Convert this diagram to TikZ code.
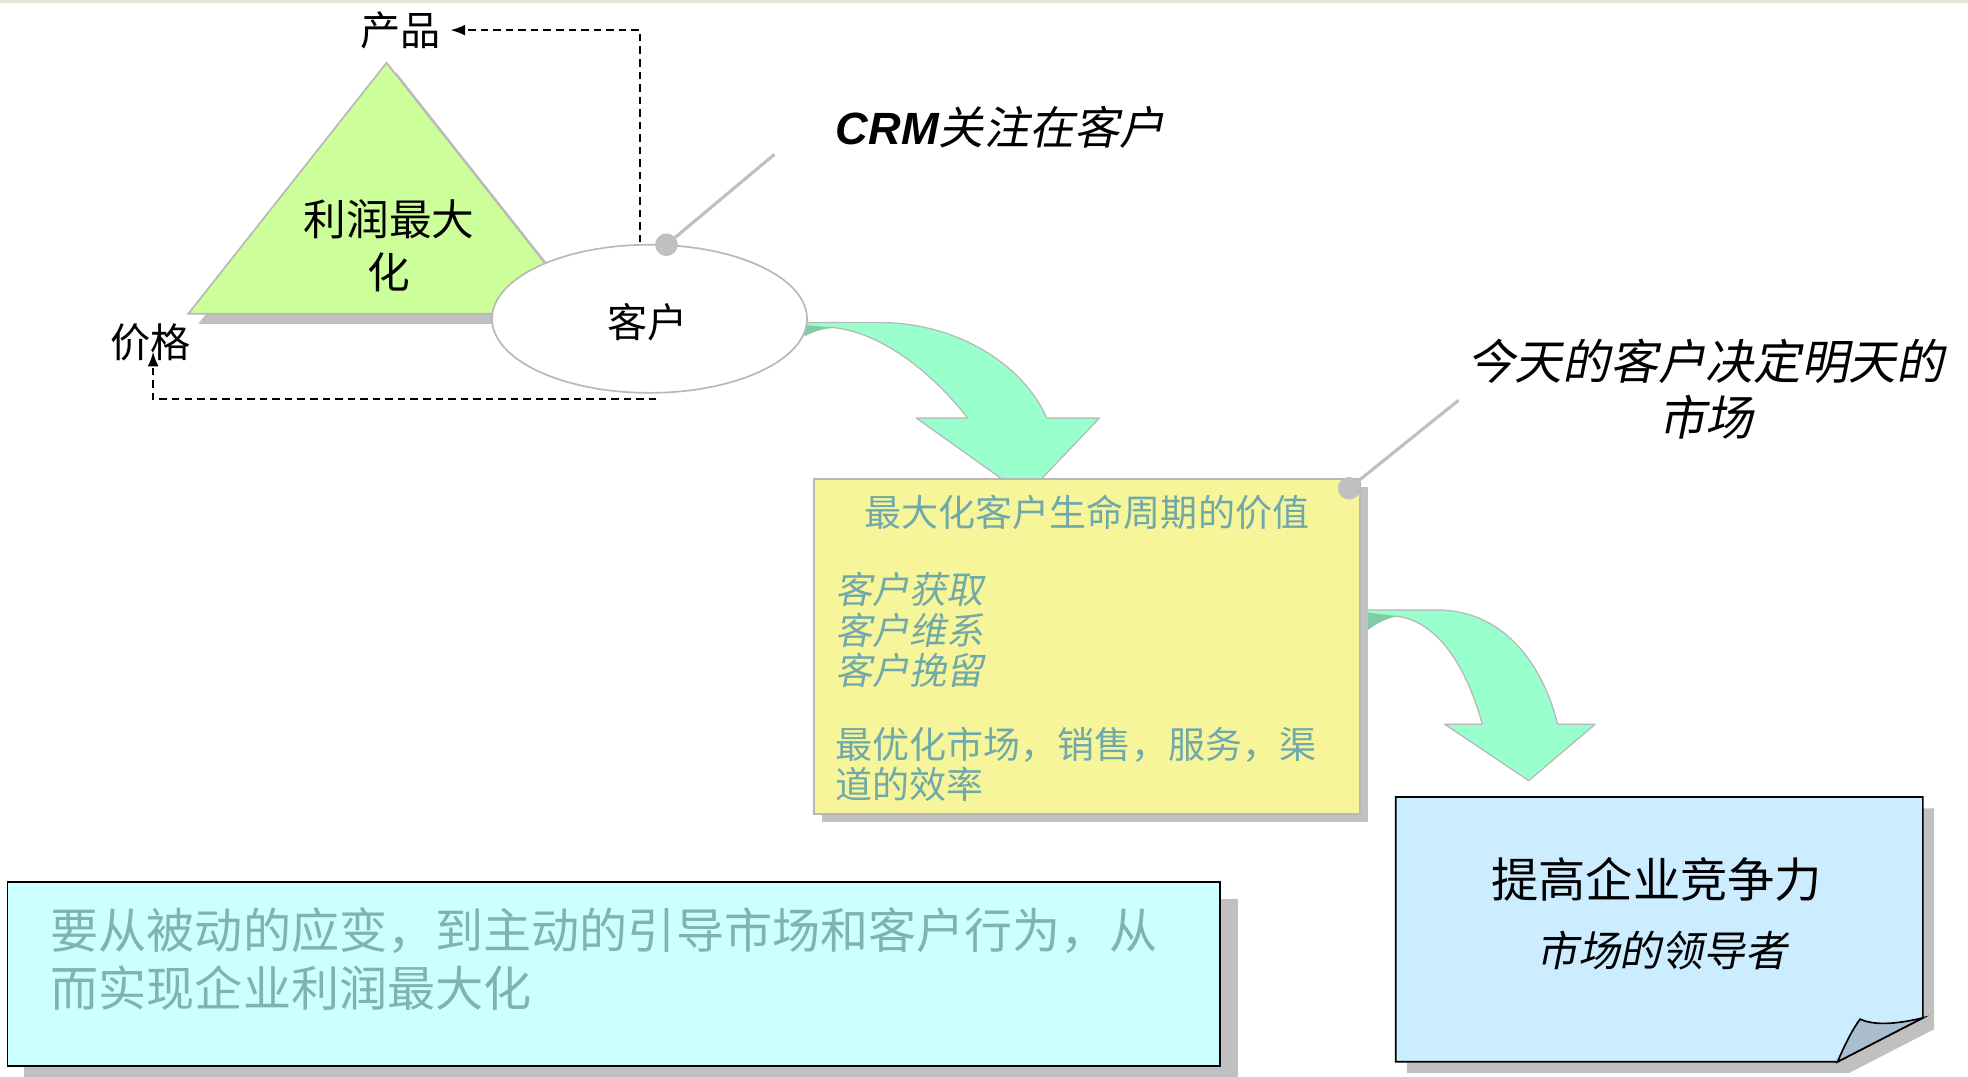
\documentclass[tikz,border=0pt]{standalone}
\usepackage{fontspec}
\setmainfont{Liberation Sans}
\newfontfamily\cjk{Noto Sans CJK SC}
\newfontfamily\cjkit{Noto Sans CJK SC}[FakeSlant=0.2]
\usetikzlibrary{arrows.meta,calc,shapes.geometric}
\newcommand\myfs[2]{\fontsize{#1}{#2}\selectfont}
\definecolor{trifill}{HTML}{CCFF99}
\definecolor{shadowgray}{HTML}{C0C0C0}
\definecolor{edgegray}{HTML}{B8B8B8}
\definecolor{arrowgreen}{HTML}{99FFCC}
\definecolor{arrowdark}{HTML}{7FCCA5}
\definecolor{noteyellow}{HTML}{F7F59A}
\definecolor{tealtext}{HTML}{6FA9A9}
\definecolor{bluebox}{HTML}{CCECFF}
\definecolor{foldblue}{HTML}{A9BFD0}
\definecolor{cyanbox}{HTML}{CCFFFF}
\definecolor{bottomtext}{HTML}{7FB2B2}
\definecolor{topline}{HTML}{E4E4D8}
\tikzset{
  dasharrow/.style={draw=black, line width=1pt, dash pattern=on 3.6pt off 2.4pt, -{Latex[length=7pt,width=5.2pt]}},
  calloutline/.style={draw=shadowgray, line width=1.5pt},
  calloutdot/.style={circle, fill=shadowgray, inner sep=0pt, minimum size=10.8pt},
  bigarrow/.style={fill=arrowgreen, draw=edgegray, line width=0.6pt, line join=round},
  darkpart/.style={fill=arrowdark, draw=none},
  plainlabel/.style={inner sep=0pt, text=black},
}
\begin{document}
\begin{tikzpicture}[x=0.6pt,y=-0.6pt]
\useasboundingbox (0,0) rectangle (1568,858);
\fill[white] (0,0) rectangle (1568,858);
\fill[topline] (0,0) rectangle (1568,2);

% triangle
\fill[shadowgray] (158,258) -- (316,58) -- (474,258) -- cycle;
\filldraw[fill=trifill, draw=edgegray, line width=0.8pt] (150,250) -- (308,50) -- (466,250) -- cycle;
\node[plainlabel, font=\cjk\myfs{20.4}{25.2}, align=center] (profit) at (310,196) {利润最大\\化};

% curved arrow 1
\filldraw[bigarrow] (630,257) -- (701,257) .. controls (762,257) and (815,290) .. (834,333)
  -- (876,333) -- (817,395) -- (730,333) -- (771,333)
  .. controls (742,296) and (702,265) .. (664,261) -- (630,262) -- cycle;
\fill[darkpart] (664,261) .. controls (654,262) and (647,265) .. (641,268) -- (641,259) -- cycle;

% customer ellipse
\node[ellipse, draw=edgegray, fill=white, line width=0.8pt, minimum width=150.6pt, minimum height=70.8pt, inner sep=0pt] (cust) at (517.5,254) {};
\node[plainlabel, font=\cjk\myfs{19.2}{22}] (custlabel) at (516,257) {客户};

% product / price labels and dashed arrows
\node[plainlabel, font=\cjk\myfs{19.2}{22}] (prod) at (319,24) {产品};
\node[plainlabel, font=\cjk\myfs{19.2}{22}] (price) at (120,273) {价格};
\coordinate (c1) at (510,193);
\coordinate (c2) at (523,318);
\draw[dasharrow] (c1) |- ([xshift=4.5pt]prod.east);
\draw[dasharrow] (c2) -| ([xshift=1.2pt,yshift=4.8pt]price.south);

% CRM callout
\node[calloutdot] (dot1) at (531,195) {};
\coordinate (tip1) at (617,123);
\draw[calloutline] (dot1.center) -- (tip1);
\node[plainlabel, font=\myfs{21.6}{25}] (crm) at (797,101) {{\bfseries\itshape CRM}{\cjkit 关注在客户}};

% curved arrow 2
\filldraw[bigarrow] (1080,486) -- (1145,486) .. controls (1195,486) and (1228,525) .. (1241,577)
  -- (1271,577) -- (1218,622) -- (1151,577) -- (1181,577)
  .. controls (1168,530) and (1145,495) .. (1113,491) -- (1080,492) -- cycle;
\fill[darkpart] (1113,491) .. controls (1104,493) and (1096,497) .. (1090,502) -- (1090,488) -- cycle;

% yellow note
\fill[shadowgray] (655,388) rectangle (1090,655);
\node[draw=edgegray, fill=noteyellow, line width=0.8pt, anchor=north west, minimum width=261pt, minimum height=160.2pt, inner sep=0pt] (note) at (648,381) {};
\node[plainlabel, text=tealtext, font=\cjk\myfs{17.7}{19.5}] (t1) at (866,408) {最大化客户生命周期的价值};
\node[plainlabel, text=tealtext, font=\cjkit\myfs{17.7}{19.5}, align=left, anchor=west] (t2) at (665,502) {客户获取\\客户维系\\客户挽留};
\node[plainlabel, text=tealtext, font=\cjk\myfs{17.7}{19.5}, align=left, anchor=west] (t3) at (665,609) {最优化市场，销售，服务，渠\\道的效率};
\node[calloutdot] (dot2) at (1075,389) {};
\coordinate (tip2) at (1162,319);
\draw[calloutline] (dot2.center) -- (tip2);
\node[plainlabel, font=\cjkit\myfs{22.8}{27}, align=center] (today) at (1359,310) {今天的客户决定明天的\\市场};

% blue page
\fill[shadowgray] (1121,644) -- (1541,644) -- (1541,820) -- (1473,855) -- (1121,855) -- cycle;
\filldraw[fill=bluebox, draw=black, line width=0.8pt] (1112,635) -- (1532,635) -- (1532,811) -- (1464,846) -- (1112,846) -- cycle;
\filldraw[fill=foldblue, draw=black, line width=0.8pt] (1464,846) .. controls (1470,832) and (1476,820) .. (1482,812) .. controls (1495,818) and (1515,815) .. (1532,811) -- cycle;
\node[plainlabel, font=\cjk\myfs{22.6}{26}] (goal) at (1320,701) {提高企业竞争力};
\node[plainlabel, font=\cjkit\myfs{20}{24}] (leader) at (1324,757) {市场的领导者};

% bottom cyan box
\fill[shadowgray] (19,716) rectangle (986,862);
\filldraw[fill=cyanbox, draw=black, line width=0.9pt] (6,703) rectangle (972,849);
\node[plainlabel, text=bottomtext, font=\cjk\myfs{23}{27.6}, align=left, anchor=west] (bottom) at (40,764) {要从被动的应变，到主动的引导市场和客户行为，从\\而实现企业利润最大化};
\end{tikzpicture}
\end{document}
